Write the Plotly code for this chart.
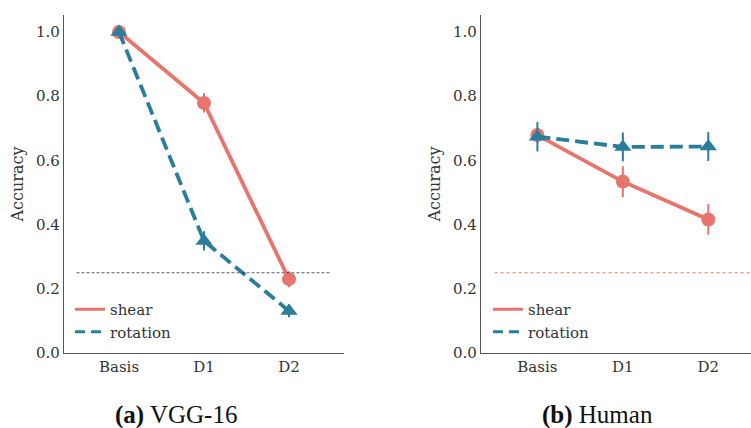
import plotly.graph_objects as go

categories = ["Basis", "D1", "D2"]

vgg_shear = [1.0, 0.779, 0.230]
vgg_shear_err = [0.005, 0.03, 0.025]
vgg_rotation = [1.0, 0.349, 0.131]
vgg_rotation_err = [0.005, 0.03, 0.02]

human_shear = [0.679, 0.534, 0.416]
human_shear_err = [0.02, 0.048, 0.048]
human_rotation = [0.674, 0.642, 0.643]
human_rotation_err = [0.046, 0.045, 0.045]

chance = 0.25
y_ticks = [0.0, 0.2, 0.4, 0.6, 0.8, 1.0]
captions = ["<b>(a)</b> VGG-16", "<b>(b)</b> Human"]

SHEAR = "#e8756d"
ROT = "#2b7d9c"
FONT = "DejaVu Serif, Liberation Serif, serif"
W, H = 751, 428

fig = go.Figure()

xpos = list(range(len(categories)))

def add_series(xa, ya, y, err, color, dash, symbol, size):
    fig.add_trace(go.Scatter(
        x=xpos, y=y, xaxis=xa, yaxis=ya, mode="lines+markers",
        line=dict(color=color, width=3.8, dash=dash),
        marker=dict(symbol=symbol, size=size, color=color),
        error_y=dict(type="data", array=err, color=color, thickness=2, width=0),
        showlegend=False, hoverinfo="skip"))

add_series("x", "y", vgg_shear, vgg_shear_err, SHEAR, "solid", "circle", 14)
add_series("x", "y", vgg_rotation, vgg_rotation_err, ROT, "13px,6px", "triangle-up", 15)
add_series("x2", "y2", human_shear, human_shear_err, SHEAR, "solid", "circle", 14)
add_series("x2", "y2", human_rotation, human_rotation_err, ROT, "13px,6px", "triangle-up", 15)

for lg in ["legend", "legend2"]:
    fig.add_trace(go.Scatter(x=[None], y=[None], mode="lines", name="shear",
                             line=dict(color=SHEAR, width=3), legend=lg))
    fig.add_trace(go.Scatter(x=[None], y=[None], mode="lines", name="rotation",
                             line=dict(color=ROT, width=3, dash="10px,6px"), legend=lg))

fig.add_shape(type="line", xref="x", yref="y", x0=-0.5, x1=2.5, y0=chance, y1=chance,
              line=dict(color="#333333", width=0.8, dash="3px,2px"))
fig.add_shape(type="line", xref="x2", yref="y2", x0=-0.5, x1=2.5, y0=chance, y1=chance,
              line=dict(color=SHEAR, width=1, dash="dot"))

axis_common = dict(showgrid=False, zeroline=False, showline=True, linecolor="#555555",
                   linewidth=1.3, ticks="", tickfont=dict(family=FONT, size=15, color="#333333"),
                   automargin=False)

legend_common = dict(xanchor="left", yanchor="top", bgcolor="rgba(0,0,0,0)",
                     font=dict(family=FONT, size=15, color="#333333"),
                     tracegroupgap=0, itemwidth=30)

top_px = 293
fig.update_layout(
    width=W, height=H,
    margin=dict(l=0, r=0, t=15, b=75),
    plot_bgcolor="white", paper_bgcolor="white",
    font=dict(family=FONT, size=15, color="#333333"),
    xaxis=dict(domain=[64 / W, 344 / W], range=[-0.647, 2.647], tickvals=xpos,
               ticktext=categories, anchor="y", **axis_common),
    yaxis=dict(domain=[0, 1], range=[0, 1.053], tickvals=y_ticks,
               ticktext=[f"{v:.1f}" for v in y_ticks], anchor="x",
               title=dict(text="Accuracy", font=dict(family=FONT, size=16, color="#333333"), standoff=8),
               **axis_common),
    xaxis2=dict(domain=[481 / W, 1.0], range=[-0.66, 2.5], tickvals=xpos,
                ticktext=categories, anchor="y2", **axis_common),
    yaxis2=dict(domain=[0, 1], range=[0, 1.053], tickvals=y_ticks,
                ticktext=[f"{v:.1f}" for v in y_ticks], anchor="x2",
                title=dict(text="Accuracy", font=dict(family=FONT, size=16, color="#333333"), standoff=8),
                **axis_common),
    legend=dict(x=70 / W, y=(353 - top_px) / 338, **legend_common),
    legend2=dict(x=488 / W, y=(353 - top_px) / 338, **legend_common),
)

for cap, cx in zip(captions, [176, 597]):
    fig.add_annotation(text=cap, xref="paper", yref="paper", x=cx / W,
                       y=-(415 - 353) / 338, xanchor="center", yanchor="middle",
                       showarrow=False, font=dict(family="Liberation Serif, serif", size=25, color="#111111"))

fig.write_html("out.html", config={"displayModeBar": False},
               post_script="document.body.style.margin='0';")
